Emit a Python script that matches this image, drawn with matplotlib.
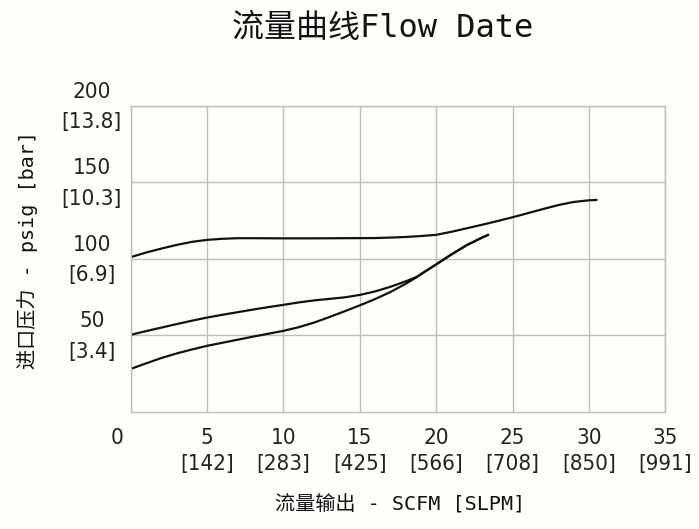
import matplotlib
matplotlib.use('Agg')
import matplotlib.pyplot as plt
import matplotlib.font_manager as fm
from matplotlib.transforms import ScaledTranslation

# flow (SCFM) vs inlet pressure (psig)
x_top = [0, 1, 2, 3, 4, 5, 6, 7, 8, 10, 12, 14, 16, 17, 18, 19, 20, 21, 22, 23, 24, 25, 26, 27, 28, 29, 30, 30.5]
y_top = [101, 104, 106.6, 109, 111, 112.3, 113, 113.4, 113.4, 113.3, 113.3, 113.4, 113.5, 113.8, 114.2, 114.8, 115.6,
         117.6, 119.9, 122.2, 124.6, 127.1, 129.8, 132.5, 135.1, 137.1, 138.2, 138.4]

x_mid = [0, 1, 2, 3, 4, 5, 6, 7, 8, 9, 10, 11, 12, 13, 14, 15, 16, 17, 18, 18.7, 19, 20, 21, 22, 23, 23.4]
y_mid = [50.2, 52.6, 54.9, 57.2, 59.4, 61.5, 63.3, 65, 66.7, 68.3, 69.8, 71.4, 72.7, 73.7, 74.7, 76.3, 78.6, 81.6, 85.2,
         88, 89.9, 96.3, 102.8, 108.9, 113.8, 115.6]

x_low = [0, 1, 2, 3, 4, 5, 6, 7, 8, 9, 10, 11, 12, 13, 14, 15, 16, 17, 18, 18.7, 19, 20, 21, 22, 23, 23.4]
y_low = [27.9, 31.5, 35, 38, 40.6, 43, 45, 47, 49, 50.9, 52.8, 55.2, 58.2, 61.8, 65.6, 69.5, 73.6, 78.2, 83.6,
         87.8, 89.9, 96.3, 102.8, 108.9, 113.8, 115.6]

x_ticks = [0, 5, 10, 15, 20, 25, 30, 35]
x_labels = ['0\n ', '5\n[142]', '10\n[283]', '15\n[425]', '20\n[566]', '25\n[708]', '30\n[850]', '35\n[991]']
y_ticks = [50, 100, 150, 200]
y_labels = ['50\n[3.4]', '100\n[6.9]', '150\n[10.3]', '200\n[13.8]']

title = '流量曲线Flow Date'
xlabel = '流量输出 - SCFM [SLPM]'
ylabel = '进口压力 - psig [bar]'


def narrow_font():
    # look for a narrow sans for the tick numbers
    for f in fm.fontManager.ttflist:
        if f.name == 'Liberation Sans Narrow' and f.style == 'normal' and f.weight in (400, 'normal', 'regular'):
            return fm.FontProperties(fname=f.fname, size=17)
    for f in fm.fontManager.ttflist:
        if f.fname.endswith('DejaVuSansCondensed.ttf'):
            return fm.FontProperties(fname=f.fname, size=16)
    return fm.FontProperties(family='DejaVu Sans', size=15)


tick_fp = narrow_font()
label_family = ['DejaVu Sans Mono', 'Noto Sans CJK SC']

bg = '#fefefb'
grid_c = '#bdbdbd'

fig = plt.figure(figsize=(6.99, 5.29), dpi=100, facecolor=bg)
ax = fig.add_axes([0.187, 0.222, 0.765, 0.578], facecolor=bg)

for xs, ys in [(x_top, y_top), (x_mid, y_mid), (x_low, y_low)]:
    ax.plot(xs, ys, color='#111111', lw=1.6, solid_joinstyle='round', solid_capstyle='round')

ax.set_xlim(0, 35)
ax.set_ylim(0, 200)
ax.set_xticks(x_ticks)
ax.set_xticklabels(x_labels, fontproperties=tick_fp, linespacing=1.35)
ax.set_yticks(y_ticks)
ax.set_yticklabels(y_labels, fontproperties=tick_fp, linespacing=1.65, ha='center')
ax.tick_params(axis='x', length=0, pad=12, colors='#222222')
ax.tick_params(axis='y', length=0, pad=28, colors='#222222')

# the "0" sits left of the axis corner
lab0 = ax.get_xticklabels()[0]
lab0.set_transform(lab0.get_transform() + ScaledTranslation(-0.14, 0, fig.dpi_scale_trans))
# y labels sit a little above their gridlines
for lab in ax.get_yticklabels():
    lab.set_transform(lab.get_transform() + ScaledTranslation(0, 0.06, fig.dpi_scale_trans))

ax.grid(True, color=grid_c, lw=1.0)
for s in ax.spines.values():
    s.set_color(grid_c)
    s.set_linewidth(1.0)

fig.text(0.548, 0.946, title, ha='center', va='center', fontsize=23, color='#111111', family=label_family)
fig.text(0.573, 0.045, xlabel, ha='center', va='center', fontsize=14.5, color='#111111', family=label_family)
fig.text(0.04, 0.527, ylabel, ha='center', va='center', rotation=90, fontsize=14.5, color='#111111',
         family=label_family)

fig.savefig('out.png', dpi=100, facecolor=bg)
